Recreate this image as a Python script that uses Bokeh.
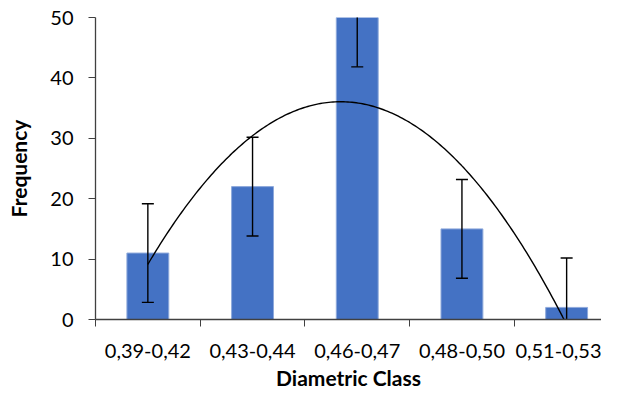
import numpy as np
from bokeh.plotting import figure
from bokeh.models import FixedTicker, ColumnDataSource, Range1d
from bokeh.embed import file_html
from bokeh.resources import INLINE

categories = ["0,39-0,42", "0,43-0,44", "0,46-0,47", "0,48-0,50", "0,51-0,53"]
frequency = [11, 22, 50, 15, 2]
std_error = [8.17, 8.17, 8.17, 8.17, 8.17]
y_ticks = [0, 10, 20, 30, 40, 50]

FONT = "Lato"

xpos = np.arange(1, len(categories) + 1)
freq = np.array(frequency, dtype=float)
err = np.array(std_error, dtype=float)

p = figure(width=601, height=392, output_backend="svg", toolbar_location=None,
           x_range=Range1d(0.5, 5.333), y_range=Range1d(0, 50),
           min_border_left=95, min_border_right=0, min_border_top=17, min_border_bottom=10)
p.outline_line_color = None
p.xgrid.grid_line_color = None
p.ygrid.grid_line_color = None
p.background_fill_color = "white"
p.border_fill_color = "white"

src = ColumnDataSource(dict(x=xpos, top=freq, lo=freq - err, hi=freq + err))
p.vbar(x="x", top="top", width=0.4, bottom=0, source=src,
       fill_color="#4472C4", line_color="#8EA9DB", line_width=1)

# polynomial (order 2) trendline fitted to the frequencies
coef = np.polyfit(xpos, freq, 2)
xs = np.linspace(xpos[0], xpos[-1], 200)
p.line(xs, np.polyval(coef, xs), line_color="black", line_width=1.4)

# error bars
p.segment(x0="x", y0="lo", x1="x", y1="hi", source=src, line_color="black", line_width=1.4)
p.scatter(x="x", y="lo", source=src, marker="dash", size=12, line_color="black", line_width=1.4)
p.scatter(x="x", y="hi", source=src, marker="dash", size=12, line_color="black", line_width=1.4)

# x axis
xa = p.xaxis[0]
xa.ticker = FixedTicker(ticks=list(xpos), minor_ticks=list(xpos - 0.5))
xa.major_label_overrides = {int(i): c for i, c in zip(xpos, categories)}
xa.major_tick_out = 0
xa.major_tick_in = 0
xa.minor_tick_out = 7
xa.minor_tick_in = 0
xa.minor_tick_line_color = "#404040"
xa.axis_line_color = "#404040"
xa.axis_line_width = 1.3
xa.major_label_standoff = 17
xa.major_label_text_font = FONT
xa.major_label_text_font_size = "20px"
xa.major_label_text_color = "black"
xa.axis_label = "Diametric Class"
xa.axis_label_text_font = FONT
xa.axis_label_text_font_size = "21px"
xa.axis_label_text_font_style = "bold"
xa.axis_label_text_color = "black"
xa.axis_label_standoff = 4

# y axis
ya = p.yaxis[0]
ya.ticker = FixedTicker(ticks=y_ticks)
ya.minor_tick_out = 0
ya.minor_tick_in = 0
ya.major_tick_out = 7
ya.major_tick_in = 0
ya.major_tick_line_color = "#404040"
ya.axis_line_color = "#404040"
ya.axis_line_width = 1.3
ya.major_label_standoff = 15
ya.major_label_text_font = FONT
ya.major_label_text_font_size = "20px"
ya.major_label_text_color = "black"
ya.axis_label = "Frequency"
ya.axis_label_text_font = FONT
ya.axis_label_text_font_size = "21px"
ya.axis_label_text_font_style = "bold"
ya.axis_label_text_color = "black"
ya.axis_label_standoff = 16

open("out.html", "w").write(file_html(p, INLINE))
